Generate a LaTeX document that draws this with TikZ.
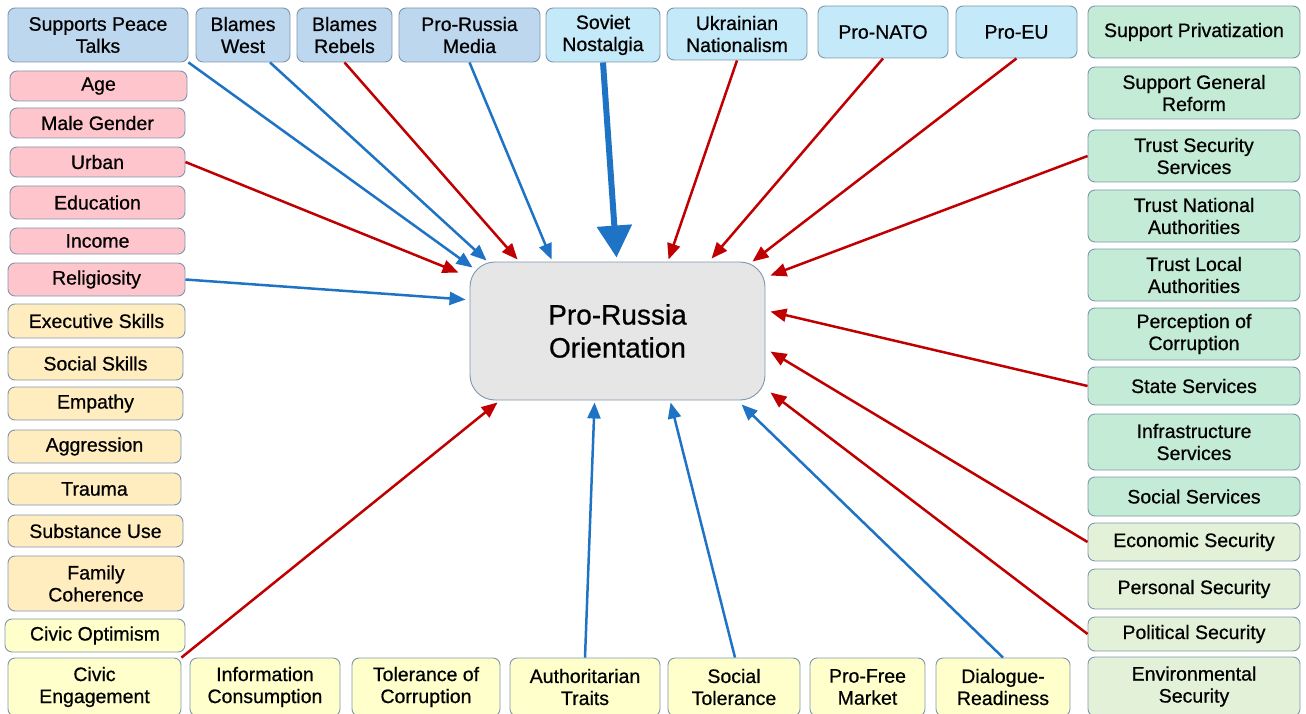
\documentclass[tikz,border=0pt]{standalone}
\usepackage{fontspec}
\setmainfont{Liberation Sans}
\newfontfamily\boxfont[FakeBold=0.6]{Liberation Sans}
\usetikzlibrary{arrows.meta,calc}
\definecolor{boxline}{HTML}{7F96AE}
\definecolor{topbcol}{HTML}{BDD7EE}
\definecolor{cyancol}{HTML}{C4E9F8}
\definecolor{pinkcol}{HTML}{FFC5CC}
\definecolor{orangecol}{HTML}{FFEDC0}
\definecolor{yellowcol}{HTML}{FFFFCC}
\definecolor{greencol}{HTML}{C3EBD5}
\definecolor{lgreencol}{HTML}{E2F1D8}
\definecolor{centercol}{HTML}{E6E6E6}
\definecolor{arblue}{HTML}{1F73C4}
\definecolor{arred}{HTML}{C00000}
\tikzset{
  box/.style={draw=boxline, line width=0.9pt, rounded corners=7pt, align=center,
    inner sep=1pt, font=\boxfont\fontsize{19.5}{22}\selectfont},
  topb/.style={box, fill=topbcol},
  cyanb/.style={box, fill=cyancol},
  pinkb/.style={box, fill=pinkcol},
  orangeb/.style={box, fill=orangecol},
  yellowb/.style={box, fill=yellowcol},
  greenb/.style={box, fill=greencol},
  lgreenb/.style={box, fill=lgreencol},
  centerb/.style={box, fill=centercol, rounded corners=25pt, font=\boxfont\fontsize{28}{33}\selectfont},
  bluearrow/.style={draw=arblue, line width=2.5pt, -{Triangle[length=16pt,width=13pt]}},
  redarrow/.style={draw=arred, line width=2.5pt, -{Triangle[length=16pt,width=13pt]}},
  thickblue/.style={draw=arblue, line width=6pt, -{Triangle[length=32pt,width=34pt]}},
}
\newcommand\mybox[7]{%
  \pgfmathsetmacro\myboxcx{(#3+#5)/2}%
  \pgfmathsetmacro\myboxcy{(#4+#6)/2}%
  \pgfmathsetmacro\myboxw{#5-#3}%
  \pgfmathsetmacro\myboxh{#6-#4}%
  \node[#2, minimum width=\myboxw pt, minimum height=\myboxh pt] (#1) at (\myboxcx,\myboxcy) {#7};%
}
\begin{document}
\begin{tikzpicture}[x=1pt,y=-1pt]
\useasboundingbox (0,0) rectangle (1306,714);
% top row
\mybox{spt}{topb}{8}{8}{188}{62}{Supports Peace\\Talks}
\mybox{bw}{topb}{196}{8}{290}{62}{Blames\\West}
\mybox{br}{topb}{297}{8}{392}{62}{Blames\\Rebels}
\mybox{prm}{topb}{399}{8}{540}{62}{Pro-Russia\\Media}
\mybox{sn}{cyanb}{546}{8}{660}{62}{Soviet\\Nostalgia}
\mybox{un}{cyanb}{667}{8}{807}{60}{Ukrainian\\Nationalism}
\mybox{nato}{cyanb}{818}{6}{948}{58}{Pro-NATO}
\mybox{eu}{cyanb}{956}{6}{1077}{58}{Pro-EU}
\mybox{spv}{greenb}{1088}{6}{1300}{58}{Support Privatization}
% left column
\mybox{age}{pinkb}{10}{71}{187}{101}{Age}
\mybox{male}{pinkb}{10}{108}{185}{138}{Male Gender}
\mybox{urban}{pinkb}{10}{147}{185}{177}{Urban}
\mybox{edu}{pinkb}{10}{186}{185}{219}{Education}
\mybox{inc}{pinkb}{10}{228}{185}{254}{Income}
\mybox{rel}{pinkb}{8}{263}{185}{296}{Religiosity}
\mybox{exe}{orangeb}{8}{304}{185}{338}{Executive Skills}
\mybox{soc}{orangeb}{8}{347}{183}{380}{Social Skills}
\mybox{emp}{orangeb}{8}{387}{183}{420}{Empathy}
\mybox{agg}{orangeb}{8}{430}{181}{463}{Aggression}
\mybox{tra}{orangeb}{8}{473}{181}{505}{Trauma}
\mybox{sub}{orangeb}{8}{515}{183}{547}{Substance Use}
\mybox{fam}{orangeb}{8}{556}{184}{611}{Family\\Coherence}
\mybox{cop}{yellowb}{5}{619}{185}{652}{Civic Optimism}
\mybox{ceng}{yellowb}{8}{658}{181}{716}{Civic\\Engagement}
% bottom row
\mybox{info}{yellowb}{190}{658}{340}{716}{Information\\Consumption}
\mybox{toc}{yellowb}{352}{658}{500}{716}{Tolerance of\\Corruption}
\mybox{auth}{yellowb}{510}{658}{660}{716}{Authoritarian\\Traits}
\mybox{stol}{yellowb}{668}{658}{800}{716}{Social\\Tolerance}
\mybox{pfm}{yellowb}{810}{658}{925}{716}{Pro-Free\\Market}
\mybox{dr}{yellowb}{936}{658}{1070}{716}{Dialogue-\\Readiness}
% right column
\mybox{sgr}{greenb}{1088}{67}{1300}{119}{Support General\\Reform}
\mybox{tss}{greenb}{1088}{130}{1300}{182}{Trust Security\\Services}
\mybox{tna}{greenb}{1088}{190}{1300}{242}{Trust National\\Authorities}
\mybox{tla}{greenb}{1088}{249}{1300}{301}{Trust Local\\Authorities}
\mybox{poc}{greenb}{1088}{308}{1300}{360}{Perception of\\Corruption}
\mybox{ss}{greenb}{1088}{367}{1300}{405}{State Services}
\mybox{is}{greenb}{1088}{414}{1300}{470}{Infrastructure\\Services}
\mybox{socs}{greenb}{1088}{477}{1300}{516}{Social Services}
\mybox{es}{lgreenb}{1088}{523}{1300}{561}{Economic Security}
\mybox{ps}{lgreenb}{1088}{569}{1300}{609}{Personal Security}
\mybox{pols}{lgreenb}{1088}{617}{1300}{651}{Political Security}
\mybox{envs}{lgreenb}{1088}{657}{1300}{716}{Environmental\\Security}
% center
\mybox{ctr}{centerb}{470}{262}{765}{400}{Pro-Russia\\Orientation}
% arrows
\draw[bluearrow] (spt.south east) -- ($(ctr.north west)+(3,6)$);
\draw[bluearrow] ($(bw.south)+(27,0)$) -- ($(ctr.north west)+(17,-1)$);
\draw[redarrow] (br.south) -- ($(ctr.north west)+(48,-2)$);
\draw[bluearrow] (prm.south) -- ($(ctr.north west)+(82,-2)$);
\draw[thickblue] (sn.south) -- ($(ctr.north west)+(147,-4)$);
\draw[redarrow] (un.south) -- ($(ctr.north west)+(199,-2)$);
\draw[redarrow] (nato.south) -- ($(ctr.north west)+(242,-3)$);
\draw[redarrow] (eu.south) -- ($(ctr.north east)+(-13,0)$);
\draw[redarrow] (urban.east) -- ($(ctr.north west)+(-11,11)$);
\draw[bluearrow] (rel.east) -- ($(ctr.north west)+(-4,38)$);
\draw[redarrow] (tss.west) -- ($(ctr.north east)+(5,14)$);
\draw[redarrow] (ss.west) -- ($(ctr.north east)+(5,50)$);
\draw[redarrow] (es.west) -- ($(ctr.north east)+(5,90)$);
\draw[redarrow] (pols.west) -- ($(ctr.south east)+(5,-8)$);
\draw[redarrow] (ceng.north east) -- ($(ctr.south west)+(28,2)$);
\draw[bluearrow] (auth.north) -- ($(ctr.south west)+(125,2)$);
\draw[bluearrow] ($(stol.north)+(1,0)$) -- ($(ctr.south west)+(201,2)$);
\draw[bluearrow] (dr.north) -- ($(ctr.south west)+(272,4)$);
\end{tikzpicture}
\end{document}
